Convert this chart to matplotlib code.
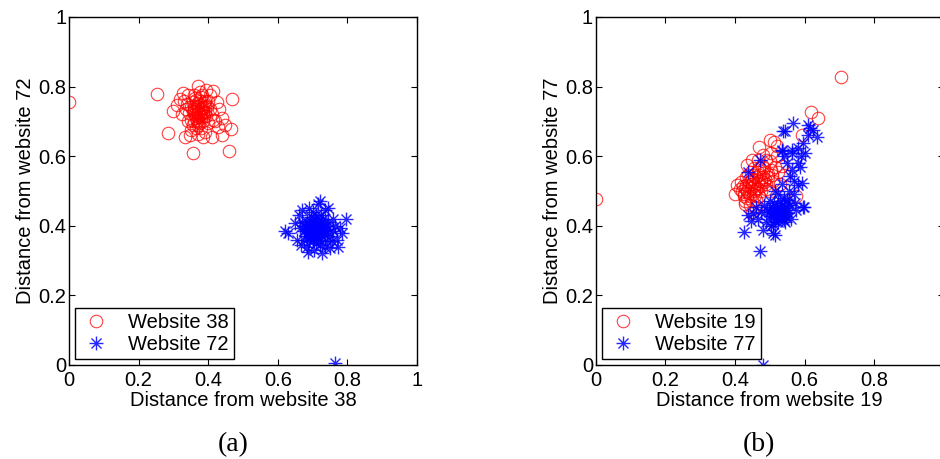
import matplotlib
matplotlib.use("Agg")
import matplotlib.pyplot as plt
from matplotlib.path import Path

# ---- data -------------------------------------------------------------
# (a) distances of samples from website 38 (x) and website 72 (y)
w38_x = [0.000, 0.254, 0.285, 0.357, 0.460, 0.468, 0.466, 0.372, 0.415, 0.309,
         0.300, 0.329, 0.348, 0.333, 0.386, 0.410, 0.439, 0.448, 0.424, 0.430,
         0.318, 0.342, 0.395, 0.440, 0.420,
         0.350, 0.360, 0.370, 0.380, 0.365, 0.355, 0.375, 0.390, 0.345, 0.385,
         0.370, 0.395, 0.340, 0.362, 0.382, 0.400, 0.405, 0.352, 0.372, 0.388,
         0.335, 0.410, 0.378, 0.358, 0.368, 0.398, 0.415, 0.428, 0.355, 0.342,
         0.365, 0.380, 0.392, 0.372, 0.350, 0.325, 0.330, 0.375, 0.360, 0.405,
         0.366, 0.374, 0.384, 0.362, 0.378, 0.386, 0.370, 0.358, 0.392, 0.376,
         0.368, 0.382, 0.364, 0.388, 0.372, 0.356, 0.380, 0.396, 0.366, 0.374,
         0.384, 0.360, 0.378, 0.370, 0.390]
w38_y = [0.757, 0.778, 0.666, 0.609, 0.615, 0.764, 0.678, 0.802, 0.786, 0.747,
         0.730, 0.781, 0.661, 0.656, 0.656, 0.656, 0.661, 0.690, 0.757, 0.735,
         0.765, 0.775, 0.790, 0.710, 0.700,
         0.740, 0.730, 0.745, 0.720, 0.710, 0.755, 0.760, 0.740, 0.725, 0.700,
         0.690, 0.715, 0.750, 0.768, 0.775, 0.760, 0.735, 0.705, 0.725, 0.752,
         0.735, 0.720, 0.735, 0.745, 0.700, 0.695, 0.705, 0.685, 0.690, 0.700,
         0.680, 0.680, 0.670, 0.665, 0.675, 0.720, 0.760, 0.785, 0.775, 0.775,
         0.735, 0.728, 0.742, 0.722, 0.712, 0.730, 0.752, 0.735, 0.728, 0.718,
         0.745, 0.738, 0.718, 0.715, 0.705, 0.728, 0.748, 0.745, 0.762, 0.695,
         0.725, 0.700, 0.770, 0.712, 0.758]

w72_x = [0.763, 0.621, 0.630, 0.796, 0.720, 0.716, 0.649, 0.688, 0.726, 0.774,
         0.784, 0.669, 0.745, 0.660, 0.655, 0.668, 0.705, 0.750, 0.770, 0.780,
         0.760, 0.735, 0.690, 0.700,
         0.680, 0.690, 0.700, 0.710, 0.695, 0.705, 0.715, 0.685, 0.675, 0.720,
         0.725, 0.730, 0.740, 0.735, 0.745, 0.700, 0.690, 0.710, 0.720, 0.680,
         0.670, 0.665, 0.695, 0.710, 0.725, 0.750, 0.755, 0.760, 0.740, 0.685,
         0.700, 0.715, 0.690, 0.730, 0.705, 0.675, 0.765, 0.745, 0.720, 0.735,
         0.698, 0.708, 0.688, 0.718, 0.702, 0.692, 0.712, 0.722, 0.682, 0.728,
         0.696, 0.706, 0.716, 0.686, 0.726, 0.700, 0.710, 0.694, 0.714, 0.704,
         0.738, 0.678, 0.732, 0.690, 0.720]
w72_y = [0.005, 0.384, 0.380, 0.420, 0.472, 0.462, 0.407, 0.326, 0.322, 0.340,
         0.378, 0.445, 0.450, 0.430, 0.360, 0.345, 0.330, 0.335, 0.360, 0.395,
         0.420, 0.445, 0.450, 0.440,
         0.400, 0.390, 0.410, 0.395, 0.375, 0.380, 0.370, 0.415, 0.385, 0.405,
         0.385, 0.420, 0.400, 0.375, 0.390, 0.360, 0.355, 0.350, 0.360, 0.370,
         0.410, 0.395, 0.425, 0.430, 0.430, 0.370, 0.355, 0.385, 0.355, 0.340,
         0.395, 0.415, 0.405, 0.395, 0.365, 0.360, 0.400, 0.410, 0.345, 0.340,
         0.388, 0.398, 0.378, 0.382, 0.372, 0.398, 0.405, 0.392, 0.392, 0.378,
         0.410, 0.420, 0.365, 0.380, 0.410, 0.383, 0.388, 0.368, 0.398, 0.402,
         0.388, 0.398, 0.405, 0.385, 0.375]

# (b) distances of samples from website 19 (x) and website 77 (y)
w19_x = [0.000, 0.705, 0.620, 0.640, 0.592, 0.501, 0.512, 0.470, 0.448, 0.434,
         0.405, 0.400, 0.577, 0.534, 0.520, 0.482, 0.429, 0.540, 0.530, 0.520,
         0.500, 0.505,
         0.420, 0.430, 0.440, 0.450, 0.460, 0.445, 0.455, 0.470, 0.435, 0.425,
         0.465, 0.480, 0.490, 0.475, 0.485, 0.495, 0.438, 0.452, 0.415, 0.428,
         0.442, 0.460, 0.470, 0.500, 0.510, 0.455, 0.445, 0.432, 0.478, 0.490,
         0.465, 0.418, 0.505, 0.515, 0.525, 0.488, 0.450, 0.462,
         0.436, 0.446, 0.456, 0.466, 0.476, 0.486, 0.426, 0.440, 0.450, 0.460,
         0.470, 0.480, 0.432, 0.444, 0.454, 0.464, 0.474, 0.496, 0.506, 0.422,
         0.448, 0.458, 0.468, 0.438, 0.484]
w19_y = [0.477, 0.829, 0.726, 0.710, 0.660, 0.647, 0.642, 0.627, 0.589, 0.575,
         0.518, 0.490, 0.487, 0.572, 0.630, 0.604, 0.462, 0.545, 0.520, 0.600,
         0.585, 0.560,
         0.500, 0.510, 0.495, 0.520, 0.505, 0.530, 0.545, 0.530, 0.480, 0.485,
         0.555, 0.540, 0.520, 0.500, 0.565, 0.550, 0.515, 0.490, 0.505, 0.470,
         0.460, 0.475, 0.485, 0.500, 0.530, 0.565, 0.555, 0.540, 0.575, 0.590,
         0.590, 0.525, 0.610, 0.570, 0.555, 0.505, 0.440, 0.450,
         0.500, 0.508, 0.515, 0.522, 0.528, 0.535, 0.492, 0.525, 0.535, 0.540,
         0.545, 0.552, 0.518, 0.485, 0.500, 0.510, 0.515, 0.540, 0.545, 0.515,
         0.472, 0.488, 0.565, 0.545, 0.525]

w77_x = [0.480, 0.472, 0.426, 0.515, 0.510, 0.482, 0.568, 0.544, 0.539, 0.611,
         0.625, 0.635, 0.616, 0.599, 0.597, 0.582, 0.592, 0.587, 0.582, 0.582,
         0.597, 0.563, 0.563, 0.534, 0.534, 0.558, 0.439, 0.472, 0.439, 0.453,
         0.520, 0.573, 0.501, 0.520, 0.544, 0.553, 0.530, 0.511, 0.549, 0.491,
         0.465, 0.475, 0.490, 0.505, 0.525, 0.535, 0.545, 0.555, 0.540, 0.525,
         0.555, 0.570, 0.565, 0.550, 0.540, 0.515, 0.500, 0.485, 0.460, 0.445,
         0.560, 0.575, 0.570, 0.535, 0.600, 0.610, 0.590,
         0.512, 0.522, 0.532, 0.542, 0.518, 0.528, 0.538, 0.508, 0.548, 0.498,
         0.515, 0.525, 0.535, 0.545, 0.505, 0.530, 0.520, 0.540, 0.552, 0.510]
w77_y = [0.000, 0.328, 0.382, 0.374, 0.380, 0.388, 0.694, 0.673, 0.671, 0.690,
         0.675, 0.656, 0.681, 0.455, 0.454, 0.517, 0.523, 0.570, 0.580, 0.623,
         0.638, 0.618, 0.609, 0.618, 0.614, 0.542, 0.556, 0.589, 0.431, 0.436,
         0.455, 0.465, 0.427, 0.436, 0.412, 0.436, 0.455, 0.465, 0.475, 0.446,
         0.420, 0.440, 0.410, 0.400, 0.410, 0.425, 0.445, 0.460, 0.480, 0.490,
         0.500, 0.530, 0.560, 0.580, 0.600, 0.500, 0.470, 0.460, 0.455, 0.415,
         0.420, 0.445, 0.490, 0.520, 0.610, 0.660, 0.600,
         0.440, 0.445, 0.440, 0.450, 0.425, 0.430, 0.435, 0.455, 0.440, 0.440,
         0.415, 0.420, 0.460, 0.428, 0.435, 0.470, 0.450, 0.418, 0.465, 0.405]

ticks = [0, 0.2, 0.4, 0.6, 0.8, 1]
tick_labels = ["0", "0.2", "0.4", "0.6", "0.8", "1"]

# ---- style ------------------------------------------------------------
plt.rcParams["font.family"] = ["Liberation Sans", "DejaVu Sans"]
FS = 14.5

# eight-armed asterisk marker (plus and cross superimposed)
d = 0.72
asterisk = Path(
    [(0, -1), (0, 1), (-1, 0), (1, 0), (-d, -d), (d, d), (-d, d), (d, -d)],
    [Path.MOVETO, Path.LINETO] * 4,
)

fig = plt.figure(figsize=(9.4, 4.59), dpi=100)

ax_w = 348 / 940
ax_h = 348 / 459
bottom = (459 - 365) / 459
ax_a = fig.add_axes([69 / 940, bottom, ax_w, ax_h])
ax_b = fig.add_axes([595.7 / 940, bottom, ax_w, ax_h])


def draw(ax, xa, ya, la, xb, yb, lb, xlabel, ylabel):
    ax.plot(xa, ya, linestyle="none", marker="o", markersize=9,
            markerfacecolor="none", markeredgecolor=(1, 0, 0, 0.75),
            markeredgewidth=0.8, label=la)
    ax.plot(xb, yb, linestyle="none", marker=asterisk, markersize=10,
            markerfacecolor="none", markeredgecolor=(0, 0, 1, 0.85),
            markeredgewidth=1.0, label=lb)
    ax.set_xlim(0, 1)
    ax.set_ylim(0, 1)
    ax.set_xticks(ticks)
    ax.set_xticklabels(tick_labels)
    ax.set_yticks(ticks)
    ax.set_yticklabels(tick_labels)
    ax.tick_params(direction="in", length=4, width=0.8, labelsize=FS,
                   top=True, right=True, colors="black")
    ax.tick_params(axis="x", pad=4)
    ax.tick_params(axis="y", pad=2)
    for sp in ax.spines.values():
        sp.set_linewidth(1.0)
        sp.set_color("black")
    ax.set_xlabel(xlabel, fontsize=FS, labelpad=1)
    ax.set_ylabel(ylabel, fontsize=FS, labelpad=2)
    leg = ax.legend(loc="lower left", bbox_to_anchor=(0.017, 0.017),
                    borderaxespad=0, fontsize=FS, fancybox=False,
                    framealpha=1, edgecolor="black", handlelength=1.6,
                    handletextpad=0.8, borderpad=0.25, labelspacing=0.15)
    leg.get_frame().set_linewidth(1.0)


draw(ax_a, w38_x, w38_y, "Website 38", w72_x, w72_y, "Website 72",
     "Distance from website 38", "Distance from website 72")
draw(ax_b, w19_x, w19_y, "Website 19", w77_x, w77_y, "Website 77",
     "Distance from website 19", "Distance from website 77")

cap_font = ["Liberation Serif", "DejaVu Serif"]
fig.text(233 / 940, 1 - 445 / 459, "(a)", ha="center", va="center",
         fontsize=20, family=cap_font)
fig.text(759 / 940, 1 - 445 / 459, "(b)", ha="center", va="center",
         fontsize=20, family=cap_font)

fig.savefig("out.png", dpi=100)
